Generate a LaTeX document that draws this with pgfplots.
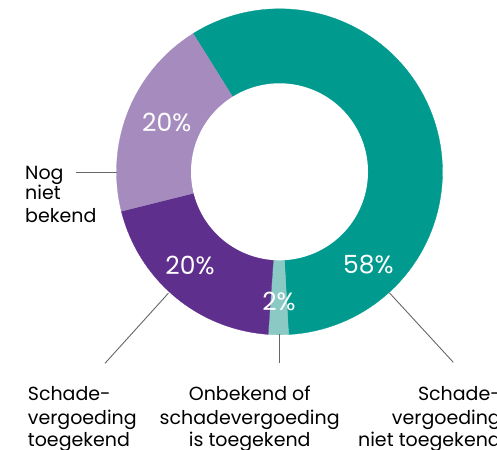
\documentclass[border=0pt]{standalone}
\usepackage{pgfplots}
\usepackage{pgfplotstable}
\pgfplotsset{compat=1.18}
\usepackage{fontspec}
\setmainfont{Poppins}

\definecolor{cteal}{HTML}{009A8F}
\definecolor{clteal}{HTML}{8AC9C4}
\definecolor{cdpurple}{HTML}{5E2F8C}
\definecolor{clpurple}{HTML}{A68BBF}
\definecolor{cline}{HTML}{666666}

% shares in percent, clockwise from the top-left boundary
\pgfplotstableread{
share
58
2
20
20
}\shares

\begin{document}
\begin{tikzpicture}
\pgfplotstablegetelem{0}{share}\of\shares \let\sA\pgfplotsretval
\pgfplotstablegetelem{1}{share}\of\shares \let\sB\pgfplotsretval
\pgfplotstablegetelem{2}{share}\of\shares \let\sC\pgfplotsretval
\pgfplotstablegetelem{3}{share}\of\shares \let\sD\pgfplotsretval
\pgfmathsetmacro\aS{122}
\pgfmathsetmacro\aA{\aS-3.6*\sA}
\pgfmathsetmacro\aB{\aA-3.6*\sB}
\pgfmathsetmacro\aC{\aB-3.6*\sC}
\pgfmathsetmacro\aD{\aC-3.6*\sD}
\def\cx{279.5}
\def\cy{277.2}
\def\ro{163}
\def\ri{88.5}
\useasboundingbox (0,0) rectangle (497pt,449pt);
\clip (0,0) rectangle (497pt,449pt);
\begin{axis}[
    at={(0,0)}, anchor=south west,
    width=497pt, height=449pt, scale only axis,
    xmin=0, xmax=497, ymin=0, ymax=449,
    hide axis, clip=false,
]
  % segments
  \addplot[fill=cteal, draw=cteal, line width=0.3pt, domain=\aA:\aS, samples=90, variable=\t]
    ({\cx+\ro*cos(\t)}, {\cy+\ro*sin(\t)}) -- (\cx,\cy) -- cycle;
  \addplot[fill=clteal, draw=clteal, line width=0.3pt, domain=\aB:\aA, samples=10, variable=\t]
    ({\cx+\ro*cos(\t)}, {\cy+\ro*sin(\t)}) -- (\cx,\cy) -- cycle;
  \addplot[fill=cdpurple, draw=cdpurple, line width=0.3pt, domain=\aC:\aB, samples=40, variable=\t]
    ({\cx+\ro*cos(\t)}, {\cy+\ro*sin(\t)}) -- (\cx,\cy) -- cycle;
  \addplot[fill=clpurple, draw=clpurple, line width=0.3pt, domain=\aD:\aC, samples=40, variable=\t]
    ({\cx+\ro*cos(\t)}, {\cy+\ro*sin(\t)}) -- (\cx,\cy) -- cycle;
  % hole
  \addplot[fill=white, draw=none, domain=0:360, samples=181, variable=\t]
    ({\cx+\ri*cos(\t)}, {\cy+\ri*sin(\t)}) -- cycle;

  % leader lines
  \addplot[cline, line width=0.9pt] coordinates {(76,277) (117,277)};
  \addplot[cline, line width=0.9pt] coordinates {(168.3,155.7) (105,85.7)};
  \addplot[cline, line width=0.9pt] coordinates {(279.5,115) (279.5,85.7)};
  \addplot[cline, line width=0.9pt] coordinates {(389.3,156.3) (453.3,86.7)};

  % percentages
  \begin{scope}[every node/.style={text=white, inner sep=0pt, font=\fontsize{25}{30}\selectfont}]
    \node at (166.7,326.7) {20\%};
    \node at (190,184) {20\%};
    \node at (368.3,184) {58\%};
    \node at (279,147.3) {2\%};
  \end{scope}

  % category labels
  \begin{scope}[every node/.style={inner sep=0pt, font=\fontsize{19}{23}\selectfont}]
    \node[anchor=base west] at (25,269.7) {Nog};
    \node[anchor=base west] at (25,249) {niet};
    \node[anchor=base west] at (25,226.3) {bekend};

    \node[anchor=base west] at (27.7,48) {Schade-};
    \node[anchor=base west] at (27.7,24.7) {vergoeding};
    \node[anchor=base west] at (27.7,3) {toegekend};

    \node[anchor=base] at (249.7,48) {Onbekend of};
    \node[anchor=base] at (249.7,24.7) {schadevergoeding};
    \node[anchor=base] at (249.7,3) {is toegekend};

    \node[anchor=base east] at (501,48) {Schade-};
    \node[anchor=base east] at (501,24.7) {vergoeding};
    \node[anchor=base east] at (501,3) {niet toegekend};
  \end{scope}
\end{axis}
\end{tikzpicture}
\end{document}
